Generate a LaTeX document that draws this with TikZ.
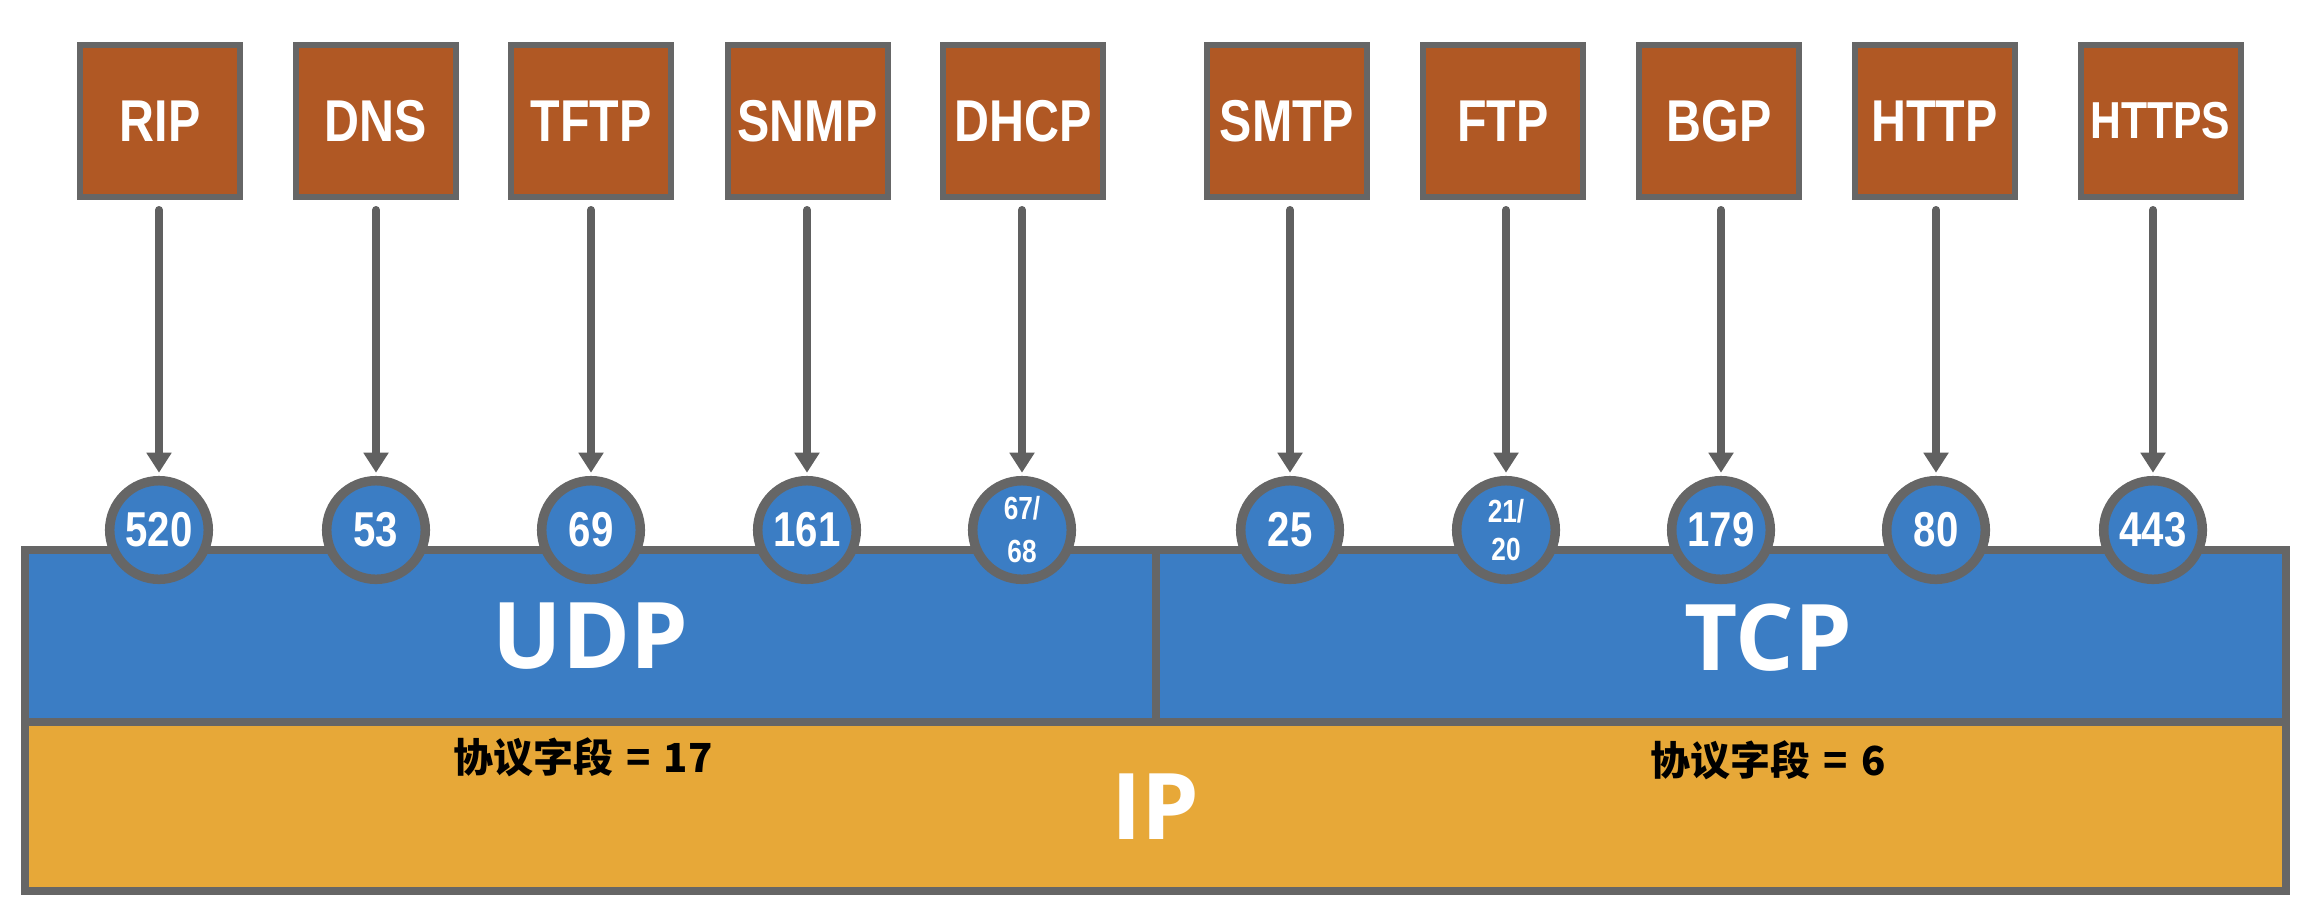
\documentclass[tikz,border=0pt]{standalone}
\usepackage{fontspec}
\usetikzlibrary{arrows.meta}
\setmainfont{Liberation Sans}
\newfontfamily\labfont[FakeStretch=0.82]{Liberation Sans}
\newfontfamily\bigfont{Open Sans}
\newfontfamily\cjkfont{Noto Sans CJK SC}
\definecolor{boxbrown}{RGB}{176,88,36}
\definecolor{udpblue}{RGB}{59,125,196}
\definecolor{ipgold}{RGB}{231,168,56}
\definecolor{bordergray}{RGB}{102,102,102}
\definecolor{arrowgray}{RGB}{96,96,96}
\begin{document}
\begin{tikzpicture}[x=1pt,y=-1pt,
  protobox/.style={draw=bordergray, line width=6pt, fill=boxbrown, minimum width=160pt, minimum height=152pt, inner sep=0pt, outer sep=0pt, text=white, font=\labfont\bfseries\fontsize{59}{61}\selectfont},
  port/.style={circle, draw=bordergray, line width=9.5pt, fill=udpblue, minimum size=98.6pt, inner sep=0pt, outer sep=0pt, text=white, font=\labfont\bfseries\fontsize{49}{50}\selectfont},
  porttwo/.style={port, align=center, font=\labfont\bfseries\fontsize{32}{#1}\selectfont},
  layer/.style={draw=bordergray, line width=8pt, inner sep=0pt, outer sep=0pt, text=white, font=\bigfont\bfseries\fontsize{92}{96}\selectfont},
  bigtext/.style={inner sep=0pt, text=white, font=\bigfont\bfseries\fontsize{92}{96}\selectfont},
  fieldtext/.style={inner sep=0pt, text=black, font=\cjkfont\bfseries\fontsize{40}{44}\selectfont},
  portarrow/.style={draw=arrowgray, line width=8pt, line cap=round, -{Triangle[width=24pt,length=20pt]}, shorten <=13pt, shorten >=8pt}
]
\fill[white] (0,0) rectangle (2308,906);
\useasboundingbox (0,0) rectangle (2308,906);

% layers
\node[layer, fill=udpblue, minimum width=1131pt, minimum height=172pt] (udp) at (590.5,636) {UDP};
\node[layer, fill=udpblue, minimum width=1130pt, minimum height=172pt] (tcp) at (1721,636) {};
\node[bigtext] (tcplabel) at (1768,638) {TCP};
\node[layer, fill=ipgold, minimum width=2261pt, minimum height=169pt] (ip) at (1155.5,806.5) {IP};
\node[fieldtext] (f17) at (583,757) {协议字段\hspace{4pt} = \hspace{4pt}17};
\node[fieldtext] (f6) at (1768,760) {协议字段\hspace{4pt} = \hspace{4pt}6};

% protocol boxes
\node[protobox] (rip)   at (160,121)   {RIP};
\node[protobox] (dns)   at (375.7,121) {DNS};
\node[protobox] (tftp)  at (591,121)   {TFTP};
\node[protobox] (snmp)  at (807.5,121) {SNMP};
\node[protobox] (dhcp)  at (1023,121)  {DHCP};
\node[protobox] (smtp)  at (1287,121)  {SMTP};
\node[protobox] (ftp)   at (1503,121)  {FTP};
\node[protobox] (bgp)   at (1719,121)  {BGP};
\node[protobox] (http)  at (1934.5,121) {HTTP};
\node[protobox, font=\labfont\bfseries\fontsize{52}{54}\selectfont] (https) at (2160.5,121) {HTTPS};

% ports
\node[port] (p520) at (159,530)  {520};
\node[port] (p53)  at (376,530)  {53};
\node[port] (p69)  at (591,530)  {69};
\node[port] (p161) at (807,530)  {161};
\node[porttwo=43] (p67) at (1022,530) {67/\\68};
\node[port] (p25)  at (1290,530) {25};
\node[porttwo=37.5] (p21) at (1506,530) {21/\\20};
\node[port] (p179) at (1721,530) {179};
\node[port] (p80)  at (1936,530) {80};
\node[port] (p443) at (2153,530) {443};

% arrows
\draw[portarrow] (rip.south -| p520)  -- (p520.north);
\draw[portarrow] (dns.south -| p53)   -- (p53.north);
\draw[portarrow] (tftp.south -| p69)  -- (p69.north);
\draw[portarrow] (snmp.south -| p161) -- (p161.north);
\draw[portarrow] (dhcp.south -| p67)  -- (p67.north);
\draw[portarrow] (smtp.south -| p25)  -- (p25.north);
\draw[portarrow] (ftp.south -| p21)   -- (p21.north);
\draw[portarrow] (bgp.south -| p179)  -- (p179.north);
\draw[portarrow] (http.south -| p80)  -- (p80.north);
\draw[portarrow] (https.south -| p443) -- (p443.north);
\end{tikzpicture}
\end{document}
